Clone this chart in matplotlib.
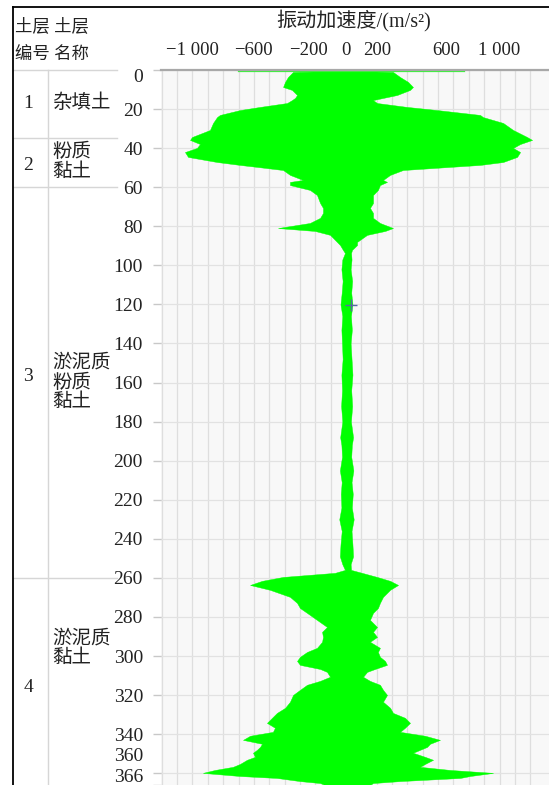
import matplotlib
matplotlib.use("Agg")
import matplotlib.pyplot as plt
from matplotlib.lines import Line2D
from matplotlib.transforms import ScaledTranslation
import numpy as np

plt.rcParams['font.family'] = ['Liberation Serif', 'Noto Sans CJK SC']

# ---------------- data ----------------
# envelope of the vibration acceleration record (depth, min, max)
env_depth = [0.5, 1.0, 3.6, 6.1, 8.7, 10.2, 12.8, 14.3, 15.4, 16.9, 18.9, 20.5, 23.0, 24.1,
             27.1, 30.7, 34.3, 35.8, 37.9, 39.9, 42.0, 44.5, 47.1, 48.6, 49.6, 51.2, 53.7,
             56.3, 57.3, 58.9, 61.4, 64.0, 68.1, 70.6, 73.2, 75.7, 78.3, 80.9, 82.4, 84.4,
             88.0, 89.6, 92.1, 93.7,
             97, 102, 108, 114, 120, 126, 133, 140, 148, 156, 164, 172, 180, 188, 192,
             198, 205, 211, 217, 224, 230, 236, 243, 249, 253,
             255.9, 257.4, 259.5, 261.5, 263.6, 266.1, 269.7, 272.8, 275.4, 277.9, 281.5,
             285.1, 287.6, 290.2, 292.7, 295.8, 297.9, 300.4, 302.5, 304.5, 306.6, 308.1,
             310.6, 312.7, 314.7, 317.3, 319.9, 323.4, 326.5, 329.1, 331.6, 334.2, 336.7,
             338.8, 340.8, 342.9, 344.9, 346.5, 348.0, 349.5, 351.6, 353.1, 355.2, 356.7,
             358.3, 359.8, 361.4, 362.4, 364.0, 365.0, 366.0]
env_min = [-60, -345, -378, -397, -410, -352, -319, -332, -352, -384, -560, -690, -821, -840,
           -866, -886, -1003, -1016, -951, -971, -1049, -1029, -840, -690, -580, -410, -365,
           -280, -365, -365, -235, -189, -169, -150, -150, -169, -235, -443, -202, -104,
           -59, -39, -20, -7,
           -24, -30, -22, -28, -36, -24, -30, -26, -22, -30, -26, -32, -24, -38, -30,
           -26, -40, -28, -34, -30, -44, -28, -36, -40, -24,
           -7, -72, -410, -547, -625, -495, -365, -319, -300, -254, -189,
           -124, -156, -150, -156, -189, -254, -300, -319, -300, -169, -124,
           -104, -169, -254, -300, -345, -365, -397, -450, -482, -515, -463,
           -476, -625, -671, -547, -560, -580, -606, -593, -645, -690, -736,
           -853, -932, -690, -450, -300, -169, -137]
env_max = [60, 306, 352, 404, 436, 417, 332, 241, 176, 202, 397, 593, 873, 892,
           1023, 1088, 1179, 1212, 1134, 1088, 1134, 1114, 1023, 873, 678, 371, 287,
           241, 267, 221, 208, 176, 176, 156, 176, 176, 221, 306, 254, 137,
           72, 72, 39, 33,
           36, 30, 40, 34, 42, 32, 38, 30, 36, 42, 34, 40, 32, 46, 38,
           34, 48, 36, 44, 38, 50, 36, 42, 46, 30,
           33, 104, 202, 287, 339, 287, 241, 221, 208, 176, 156,
           202, 176, 202, 156, 221, 208, 221, 254, 267, 189, 137,
           111, 156, 221, 241, 267, 241, 287, 306, 384, 417, 384,
           352, 515, 612, 547, 528, 482, 436, 515, 567, 515, 482,
           678, 958, 808, 743, 352, 176, 156]

surface_line = [-700, 770]          # thin trace at depth 0
marker_point = (33, 120.3)          # small cross in the record

layer_bounds = [0, 35, 60, 260, 366]
layer_ids = ["1", "2", "3", "4"]
layer_names = ["杂填土", "粉质\n黏土", "淤泥质\n粉质\n黏土", "淤泥质\n黏土"]
layer_id_depth = [17.4, 49, 157, 316]
layer_name_depth = [17, 47, 160, 296]

x_ticks = [-1000, -600, -200, 0, 200, 600, 1000]
x_ticklabels = ["\u22121 000", "\u2212600", "\u2212200", "0", "200", "600", "1 000"]
y_ticks = [0, 20, 40, 60, 80, 100, 120, 140, 160, 180, 200, 220, 240, 260, 280, 300,
           320, 340, 360, 366]
x_title = "振动加速度/(m/s²)"

# ---------------- figure ----------------
W, H = 549, 785
fig = plt.figure(figsize=(W / 100, H / 100), dpi=100)
fig.patch.set_facecolor("white")

def fx(px):
    return px / W

def fy(py):
    return 1 - py / H

ax_left, ax_top = 161, 70
ax = fig.add_axes([fx(ax_left), 0, (W - ax_left) / W, (H - ax_top) / H])
ax.set_facecolor("#f8f8f8")
ax.set_xlim(-1205, 1322)
ax.set_ylim(366, 0)

# grid
for gx in range(-1200, 1201, 100):
    ax.axvline(gx, color="#dedede", lw=0.9, zorder=0)
for gy in y_ticks[:-1]:
    ax.axhline(gy, color="#e2e2e2", lw=0.9, zorder=0)

# record envelope
ax.fill_betweenx(env_depth, env_min, env_max, color="#00ff00", lw=0.3,
                 edgecolor="#00ff00", zorder=2)
ax.plot(surface_line, [0.6, 0.6], color="#3cf03c", lw=1.6, zorder=2)
ax.plot([marker_point[0]], [marker_point[1]], marker="+", ms=9, mew=1.0,
        color="#5a66a6", zorder=3)

# spines
for s in ["left", "right", "bottom"]:
    ax.spines[s].set_visible(False)
ax.spines["top"].set_color("#a8a8a8")
ax.spines["top"].set_linewidth(1.6)

# x ticks on top
ax.xaxis.set_ticks_position("top")
ax.set_xticks(x_ticks)
ax.set_xticklabels(x_ticklabels, fontsize=13.5, color="#222222")
ax.tick_params(axis="x", length=0, pad=8)
x_off = {"\u2212200": -7, "600": 8}
for lab in ax.get_xticklabels():
    d = x_off.get(lab.get_text(), 0)
    if d:
        lab.set_transform(lab.get_transform() + ScaledTranslation(d / 100, 0, fig.dpi_scale_trans))

# y ticks on left
ax.set_yticks(y_ticks)
ax.set_yticklabels([str(v) for v in y_ticks], fontsize=14, color="#222222")
ax.tick_params(axis="y", length=6, width=1.0, color="#c8c8c8", pad=7)
y_off = {"0": -6, "360": 19, "366": 9}
for lab in ax.get_yticklabels():
    d = y_off.get(lab.get_text(), 0)
    if d:
        lab.set_transform(lab.get_transform() + ScaledTranslation(0, d / 100, fig.dpi_scale_trans))

# title
fig.text(fx(354), fy(21), x_title, ha="center", va="center", fontsize=14.5, color="#222222")

# ---------------- left table ----------------
tax = fig.add_axes([fx(13), 0, (117 - 13) / W, (H - ax_top) / H])
tax.set_xlim(13, 117)
tax.set_ylim(366, 0)
tax.axis("off")
for b in layer_bounds[:-1]:
    tax.plot([13, 117], [b, b], color="#d6d6d6", lw=1.0, clip_on=False)
tax.plot([48, 48], [0, 366], color="#d6d6d6", lw=1.0, clip_on=False)
for lid, d in zip(layer_ids, layer_id_depth):
    tax.text(28, d, lid, ha="center", va="center", fontsize=14, color="#222222")
for nm, d in zip(layer_names, layer_name_depth):
    tax.text(52, d, nm, ha="left", va="center", fontsize=14, color="#222222",
             linespacing=1.15)

fig.text(fx(15), fy(27), "土层 土层", ha="left", va="center", fontsize=12.5, color="#222222")
fig.text(fx(15), fy(56), "编号 名称", ha="left", va="center", fontsize=12.5, color="#222222")

# outer frame (top and left)
fig.add_artist(Line2D([fx(13), fx(13)], [fy(7), 0], color="black", lw=1.3,
                      transform=fig.transFigure))
fig.add_artist(Line2D([fx(13), 1], [fy(7), fy(7)], color="black", lw=1.3,
                      transform=fig.transFigure))

fig.savefig("out.png", dpi=100)
